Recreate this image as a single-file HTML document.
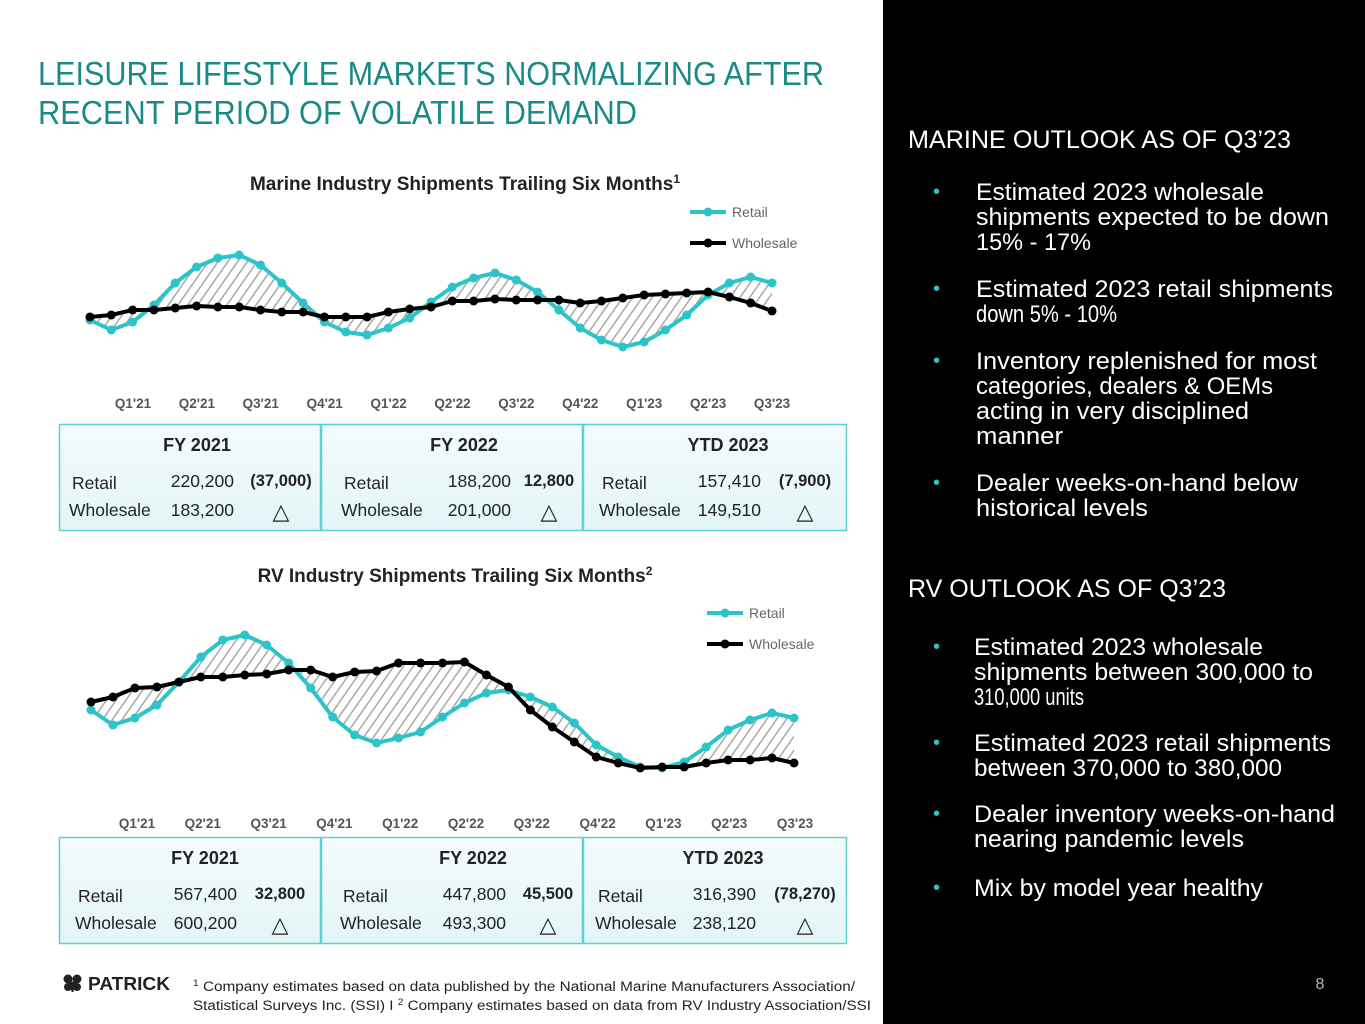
<!DOCTYPE html>
<html><head><meta charset="utf-8"><style>
html,body{margin:0;padding:0;width:1365px;height:1024px;overflow:hidden;background:#fff}
svg{display:block}
</style></head><body>
<svg id="page" width="1365" height="1024" viewBox="0 0 1365 1024" xmlns="http://www.w3.org/2000/svg" font-family="'Liberation Sans', sans-serif">
<defs>
<pattern id="hatch" patternUnits="userSpaceOnUse" width="8" height="8" patternTransform="rotate(35)">
<rect width="8" height="8" fill="#fff"/>
<line x1="0" y1="0" x2="0" y2="8" stroke="#a8a8a8" stroke-width="3"/>
</pattern>
<linearGradient id="boxg" x1="0" y1="0" x2="0" y2="1"><stop offset="0" stop-color="#f3fbfc"/><stop offset="1" stop-color="#e4f5f7"/></linearGradient>
</defs>
<rect x="883" y="0" width="482" height="1024" fill="#000"/>
<g fill="#1a8a86" font-size="33">
<text x="38" y="85" textLength="786" lengthAdjust="spacingAndGlyphs">LEISURE LIFESTYLE MARKETS NORMALIZING AFTER</text>
<text x="38" y="124" textLength="599" lengthAdjust="spacingAndGlyphs">RECENT PERIOD OF VOLATILE DEMAND</text>
</g>
<text x="465" y="190" text-anchor="middle" font-weight="bold" font-size="19" fill="#222">Marine Industry Shipments Trailing Six Months<tspan font-size="12" dy="-7">1</tspan></text>
<text x="455" y="582" text-anchor="middle" font-weight="bold" font-size="19" fill="#222">RV Industry Shipments Trailing Six Months<tspan font-size="12" dy="-7">2</tspan></text>
<g id="marineChart"></g>
<g id="rvChart"></g>
<g id="boxes"></g>
<g>
<g fill="#222"><circle cx="68" cy="979" r="4.5"/><circle cx="77" cy="979" r="4.5"/><circle cx="72.5" cy="986" r="4.5"/><circle cx="68" cy="987" r="4"/><circle cx="77" cy="987" r="4"/><rect x="71.5" y="986" width="2" height="6"/></g>
<text x="88" y="990" font-weight="bold" font-size="18" fill="#222" textLength="82" lengthAdjust="spacingAndGlyphs">PATRICK</text>
</g>
<g font-size="13.5" fill="#222">
<text x="193" y="991" textLength="662" lengthAdjust="spacingAndGlyphs"><tspan font-size="9" dy="-5">1</tspan><tspan dy="5"> Company estimates based on data published by the National Marine Manufacturers Association/</tspan></text>
<text x="193" y="1010" textLength="678" lengthAdjust="spacingAndGlyphs">Statistical Surveys Inc. (SSI) I <tspan font-size="9" dy="-5">2</tspan><tspan dy="5"> Company estimates based on data from RV Industry Association/SSI</tspan></text>
</g>
<text x="1320" y="989" text-anchor="middle" font-size="16" fill="#bbb">8</text>
<g fill="#fff" font-size="25">
<text x="908" y="148" textLength="383" lengthAdjust="spacingAndGlyphs">MARINE OUTLOOK AS OF Q3’23</text>
<g font-size="24">
<text x="933" y="198" fill="#2bc4c8" font-size="20">•</text>
<text x="976" y="200" textLength="288" lengthAdjust="spacingAndGlyphs">Estimated 2023 wholesale</text>
<text x="976" y="225" textLength="353" lengthAdjust="spacingAndGlyphs">shipments expected to be down</text>
<text x="976" y="250" textLength="115" lengthAdjust="spacingAndGlyphs">15% - 17%</text>
<text x="933" y="295" fill="#2bc4c8" font-size="20">•</text>
<text x="976" y="297" textLength="357" lengthAdjust="spacingAndGlyphs">Estimated 2023 retail shipments</text>
<text x="976" y="322" textLength="141" lengthAdjust="spacingAndGlyphs">down 5% - 10%</text>
<text x="933" y="367" fill="#2bc4c8" font-size="20">•</text>
<text x="976" y="369" textLength="341" lengthAdjust="spacingAndGlyphs">Inventory replenished for most</text>
<text x="976" y="394" textLength="297" lengthAdjust="spacingAndGlyphs">categories, dealers &amp; OEMs</text>
<text x="976" y="419" textLength="273" lengthAdjust="spacingAndGlyphs">acting in very disciplined</text>
<text x="976" y="444" textLength="87" lengthAdjust="spacingAndGlyphs">manner</text>
<text x="933" y="489" fill="#2bc4c8" font-size="20">•</text>
<text x="976" y="491" textLength="322" lengthAdjust="spacingAndGlyphs">Dealer weeks-on-hand below</text>
<text x="976" y="516" textLength="172" lengthAdjust="spacingAndGlyphs">historical levels</text>
</g></g>
<g fill="#fff" font-size="25">
<text x="908" y="597" textLength="318" lengthAdjust="spacingAndGlyphs">RV OUTLOOK AS OF Q3’23</text>
<g font-size="24">
<text x="933" y="653" fill="#2bc4c8" font-size="20">•</text>
<text x="974" y="655" textLength="289" lengthAdjust="spacingAndGlyphs">Estimated 2023 wholesale</text>
<text x="974" y="680" textLength="339" lengthAdjust="spacingAndGlyphs">shipments between 300,000 to</text>
<text x="974" y="705" textLength="110" lengthAdjust="spacingAndGlyphs">310,000 units</text>
<text x="933" y="749" fill="#2bc4c8" font-size="20">•</text>
<text x="974" y="751" textLength="357" lengthAdjust="spacingAndGlyphs">Estimated 2023 retail shipments</text>
<text x="974" y="776" textLength="308" lengthAdjust="spacingAndGlyphs">between 370,000 to 380,000</text>
<text x="933" y="820" fill="#2bc4c8" font-size="20">•</text>
<text x="974" y="822" textLength="361" lengthAdjust="spacingAndGlyphs">Dealer inventory weeks-on-hand</text>
<text x="974" y="847" textLength="270" lengthAdjust="spacingAndGlyphs">nearing pandemic levels</text>
<text x="933" y="894" fill="#2bc4c8" font-size="20">•</text>
<text x="974" y="896" textLength="289" lengthAdjust="spacingAndGlyphs">Mix by model year healthy</text>
</g></g>
</svg>
<script>
const NS='http://www.w3.org/2000/svg';
const quarterLabels=["Q1'21","Q2'21","Q3'21","Q4'21","Q1'22","Q2'22","Q3'22","Q4'22","Q1'23","Q2'23","Q3'23"];
const marineRetail=[60,50,58,75,97,113,122,125,115,97,77,58,48,45,52,62,78,93,102,107,100,88,70,52,40,33,38,50,65,85,97,103,97];
const marineWholesale=[63,65,70,70,72,74,73,73,70,68,68,63,63,63,68,71,73,79,79,81,80,80,80,77,79,82,85,86,87,88,83,77,69];
const rvRetail=[90,75,82,95,118,143,160,165,155,137,112,83,65,57,62,68,83,97,107,110,103,93,77,55,43,33,32,38,53,70,80,87,82];
const rvWholesale=[98,103,112,113,118,123,123,125,126,130,130,123,128,129,137,137,137,138,125,113,90,73,58,43,37,32,33,33,37,40,40,42,37];
const summaryPeriods=["FY 2021","FY 2022","YTD 2023"];
const marineRetailTotals=["220,200","188,200","157,410"];
const marineWholesaleTotals=["183,200","201,000","149,510"];
const marineDeltas=["(37,000)","12,800","(7,900)"];
const rvRetailTotals=["567,400","447,800","316,390"];
const rvWholesaleTotals=["600,200","493,300","238,120"];
const rvDeltas=["32,800","45,500","(78,270)"];

function mk(tag,attrs,parent){const e=document.createElementNS(NS,tag);for(const k in attrs)e.setAttribute(k,attrs[k]);if(parent)parent.appendChild(e);return e;}

function drawChart(g,retail,wholesale,cfg,prefix){
  const n=retail.length;
  const xs=i=>cfg.x0+(cfg.x1-cfg.x0)*i/(n-1);
  const ys=v=>cfg.yBase-(v-cfg.vMin)*cfg.k;
  let d='';
  retail.forEach((v,i)=>{d+=(i?'L':'M')+xs(i)+' '+ys(v);});
  for(let i=n-1;i>=0;i--)d+='L'+xs(i)+' '+ys(wholesale[i]);
  const area=mk('path',{d:d+'Z',fill:'url(#hatch)','fill-rule':'nonzero'},g);
  
  
  [[retail,'#2bc4c8','retail'],[wholesale,'#000','wholesale']].forEach(([arr,col,nm])=>{
    const pts=arr.map((v,i)=>xs(i)+','+ys(v)).join(' ');
    const pl=mk('polyline',{points:pts,fill:'none',stroke:col,'stroke-width':4,'stroke-linejoin':'round'},g);
    
    
    arr.forEach((v,i)=>{
      const c=mk('circle',{cx:xs(i),cy:ys(v),r:4.5,fill:col},g);
      
      
    });
  });
  quarterLabels.forEach((q,i)=>{
    const t=mk('text',{x:cfg.lx0+(cfg.lx1-cfg.lx0)*i/(quarterLabels.length-1),y:cfg.ly,'text-anchor':'middle','font-size':13.5,'font-weight':'bold',fill:'#555'},g);
    t.textContent=q;
    
    
  });
  [['Retail','#2bc4c8',cfg.legY],['Wholesale','#000',cfg.legY+31]].forEach(([lab,col,y])=>{
    const lg=mk('g',{},g);
    
    
    mk('line',{x1:cfg.legX,x2:cfg.legX+36,y1:y,y2:y,stroke:col,'stroke-width':4},lg);
    mk('circle',{cx:cfg.legX+18,cy:y,r:4.5,fill:col},lg);
    const t=mk('text',{x:cfg.legX+42,y:y+5,'font-size':14,fill:'#666'},lg);
    t.textContent=lab;
  });
}
drawChart(document.getElementById('marineChart'),marineRetail,marineWholesale,{x0:90,x1:772,yBase:380,vMin:0,k:1,lx0:133,lx1:772,ly:408,legX:690,legY:212},'marine');
drawChart(document.getElementById('rvChart'),rvRetail,rvWholesale,{x0:91,x1:794,yBase:800,vMin:0,k:1,lx0:137,lx1:795,ly:828,legX:707,legY:613},'rv');

function drawBoxes(y,retail,wholesale,deltas,prefix,L){
  const parent=document.getElementById('boxes');
  const xs=[59,321,583,847];
  for(let i=0;i<3;i++){
    const g=mk('g',{},parent);
    
    
    const x=xs[i],w=xs[i+1]-xs[i];
    const p=L[i];
    mk('rect',{x:x+0.5,y:y+0.5,width:w-1,height:106,fill:'url(#boxg)',stroke:'#5fcfd2','stroke-width':1.5},g);
    const h=mk('text',{x:p.h,y:y+27,'text-anchor':'middle','font-weight':'bold','font-size':18,fill:'#222'},g);h.textContent=summaryPeriods[i];
    const l1=mk('text',{x:p.l+3,y:y+65,'font-size':17.5,fill:'#222'},g);l1.textContent='Retail';
    const l2=mk('text',{x:p.l,y:y+92,'font-size':17.5,fill:'#222'},g);l2.textContent='Wholesale';
    const v1=mk('text',{x:p.v,y:y+63,'text-anchor':'end','font-size':17.5,fill:'#222'},g);v1.textContent=retail[i];
    const v2=mk('text',{x:p.v,y:y+92,'text-anchor':'end','font-size':17.5,fill:'#222'},g);v2.textContent=wholesale[i];
    const dl=mk('text',{x:p.d,y:y+62,'text-anchor':'middle','font-weight':'bold','font-size':16.5,fill:'#222'},g);dl.textContent=deltas[i];
    const tri=mk('text',{x:p.d,y:y+95,'text-anchor':'middle','font-size':22,fill:'#222'},g);tri.textContent='△';
  }
}
drawBoxes(424,marineRetailTotals,marineWholesaleTotals,marineDeltas,'marine',[{h:197,l:69,v:234,d:281},{h:464,l:341,v:511,d:549},{h:728,l:599,v:761,d:805}]);
drawBoxes(837,rvRetailTotals,rvWholesaleTotals,rvDeltas,'rv',[{h:205,l:75,v:237,d:280},{h:473,l:340,v:506,d:548},{h:723,l:595,v:756,d:805}]);
</script>
</body></html>
